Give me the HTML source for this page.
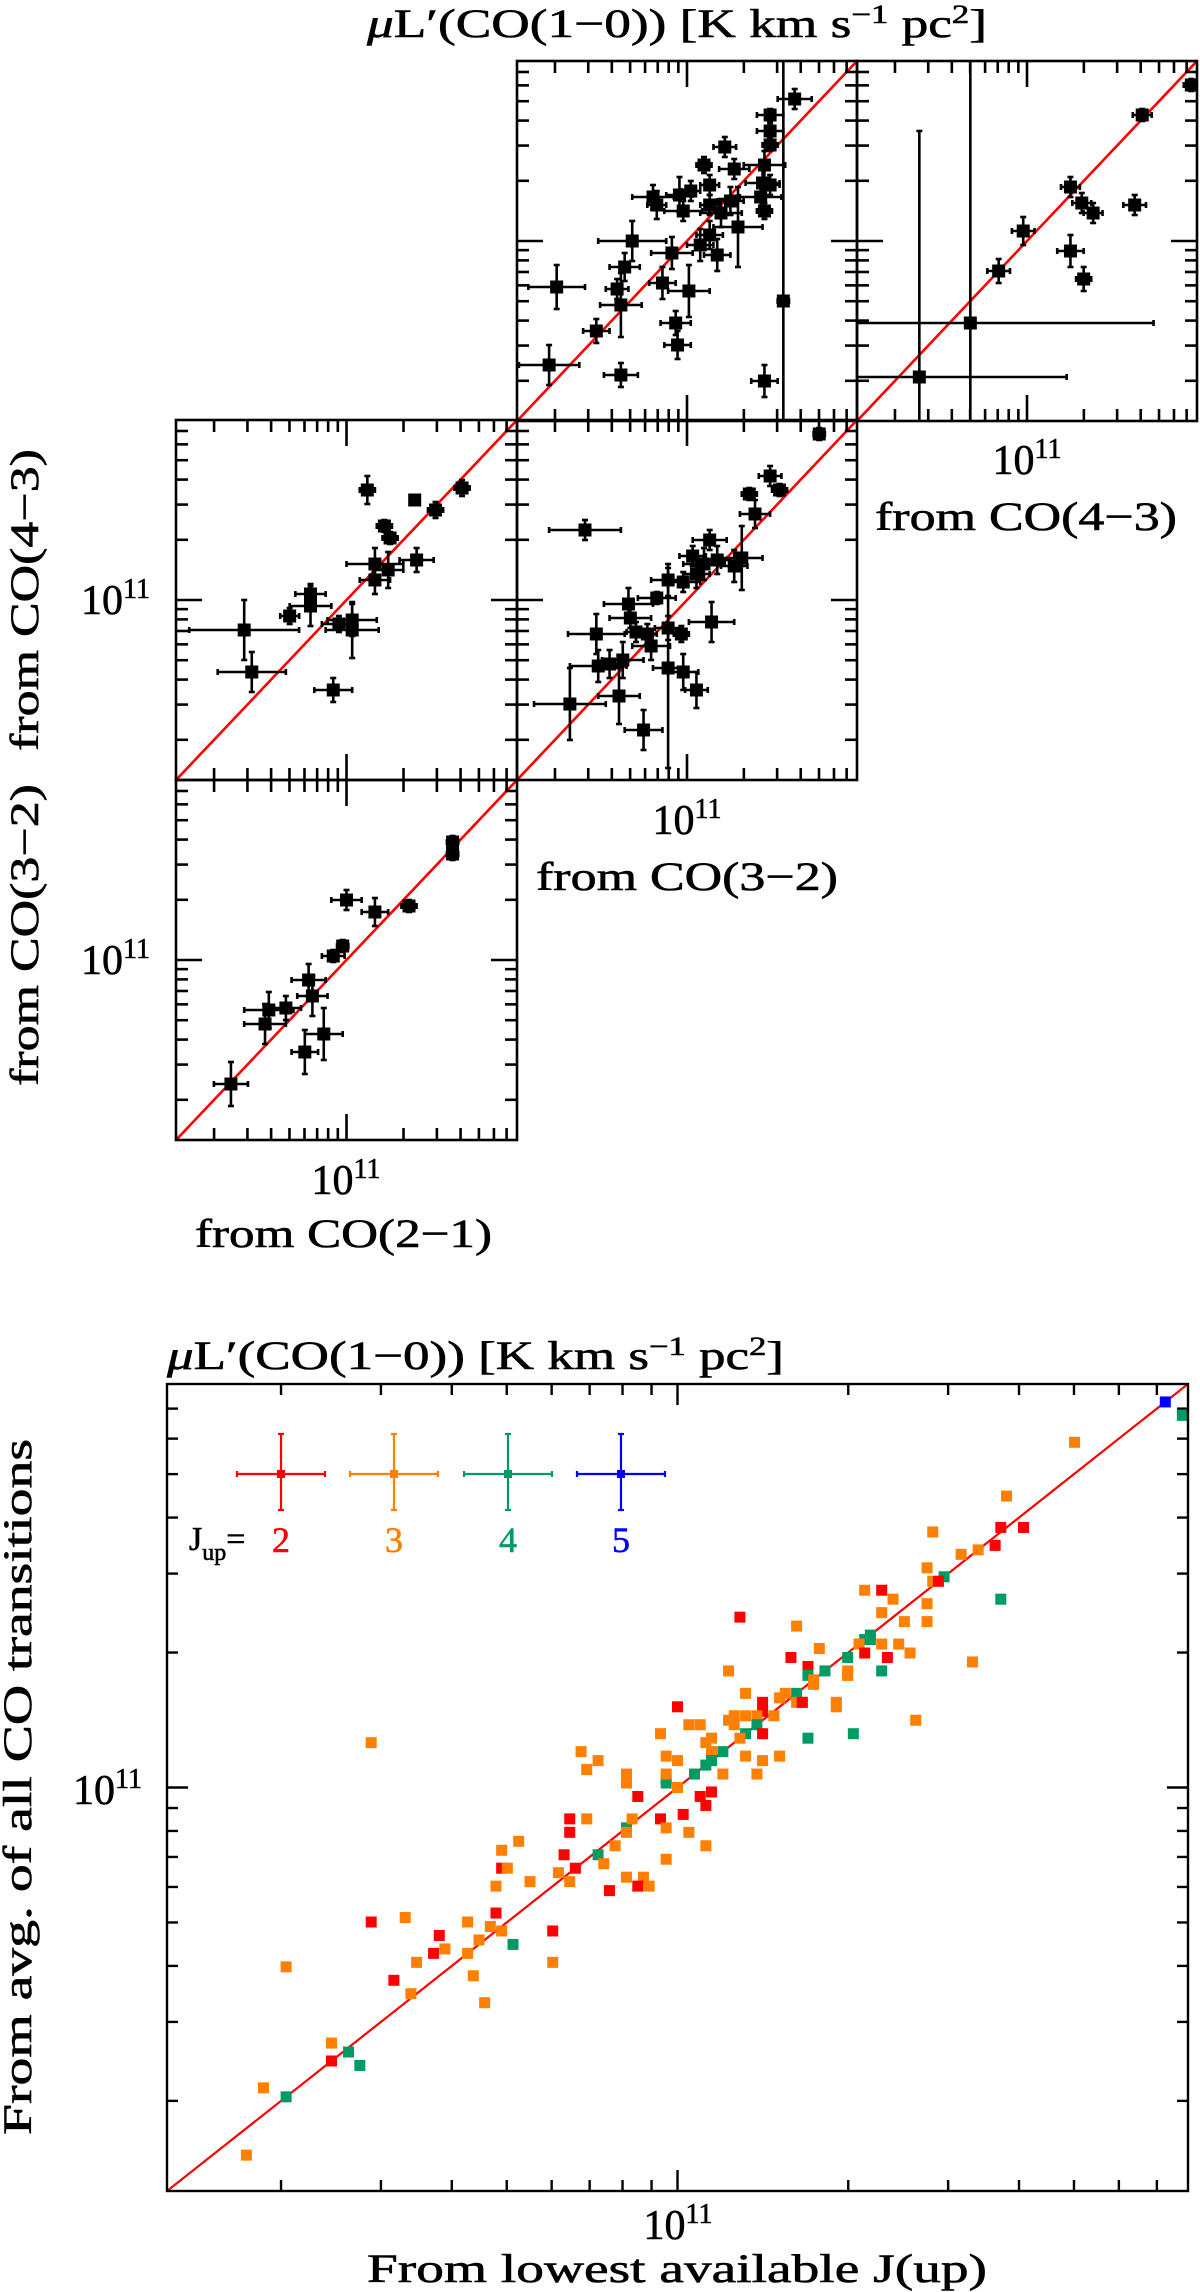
<!DOCTYPE html>
<html><head><meta charset="utf-8"><style>
html,body{margin:0;padding:0;background:#fff;}
svg{display:block;}
text{font-family:"Liberation Serif",serif;fill:#000;stroke:#000;stroke-width:0.6px;}
</style></head><body>
<svg id="fig" width="1200" height="2292" viewBox="0 0 1200 2292" xmlns="http://www.w3.org/2000/svg">
<g id="labels">
<text x="367" y="37" font-size="40" textLength="620" lengthAdjust="spacingAndGlyphs"><tspan font-style="italic">μ</tspan>L′(CO(1−0)) [K km s<tspan dy="-14" font-size="26">−1</tspan><tspan dy="14"> pc</tspan><tspan dy="-14" font-size="26">2</tspan><tspan dy="14">]</tspan></text>
<text x="1027" y="474" font-size="42" text-anchor="middle">10<tspan dy="-16" font-size="28">11</tspan></text>
<text x="875" y="530" font-size="40" textLength="302" lengthAdjust="spacingAndGlyphs">from CO(4−3)</text>
<text x="687" y="834" font-size="42" text-anchor="middle">10<tspan dy="-16" font-size="28">11</tspan></text>
<text x="536" y="890" font-size="40" textLength="302" lengthAdjust="spacingAndGlyphs">from CO(3−2)</text>
<text x="346" y="1194" font-size="42" text-anchor="middle">10<tspan dy="-16" font-size="28">11</tspan></text>
<text x="195" y="1247" font-size="40" textLength="297" lengthAdjust="spacingAndGlyphs">from CO(2−1)</text>
<text x="150" y="614" font-size="42" text-anchor="end">10<tspan dy="-16" font-size="28">11</tspan></text>
<text x="150" y="974" font-size="42" text-anchor="end">10<tspan dy="-16" font-size="28">11</tspan></text>
<text transform="translate(38,600) rotate(-90)" x="-151" y="0" font-size="40" textLength="302" lengthAdjust="spacingAndGlyphs">from CO(4−3)</text>
<text transform="translate(38,935) rotate(-90)" x="-151" y="0" font-size="40" textLength="302" lengthAdjust="spacingAndGlyphs">from CO(3−2)</text>
<text x="167" y="1369" font-size="40" textLength="617" lengthAdjust="spacingAndGlyphs"><tspan font-style="italic">μ</tspan>L′(CO(1−0)) [K km s<tspan dy="-14" font-size="26">−1</tspan><tspan dy="14"> pc</tspan><tspan dy="-14" font-size="26">2</tspan><tspan dy="14">]</tspan></text>
<text transform="translate(31,1787) rotate(-90)" x="-348" y="0" font-size="40" textLength="696" lengthAdjust="spacingAndGlyphs">From avg. of all CO transitions</text>
<text x="142" y="1804" font-size="42" text-anchor="end">10<tspan dy="-16" font-size="28">11</tspan></text>
<text x="678" y="2239" font-size="42" text-anchor="middle">10<tspan dy="-16" font-size="28">11</tspan></text>
<text x="367" y="2282" font-size="40" textLength="620" lengthAdjust="spacingAndGlyphs">From lowest available J(up)</text>
</g>
</svg>
<script>
// ---- data (log10 of L' in K km/s pc^2) ----
const tickVals = [2e10,3e10,4e10,5e10,6e10,7e10,8e10,9e10,1e11,2e11,3e11,4e11,5e11,6e11,7e11];
const majorTicks = [1e11];
const logMin = 10.1, logMax = 11.9;

// Panel: CO(1-0) vs CO(4-3) top-middle
const p1x = [11.57,11.44,11.44,11.44,11.20,11.09,11.25,11.41,11.40,11.44,11.12,10.82,10.84,10.96,11.02,11.12,11.23,11.39,11.41,10.98,11.18,11.27,11.12,11.07,11.16,10.71,10.92,10.67,10.87,11.01,10.63,10.31,10.65,10.94,10.95,10.52,10.27,10.65,11.41,11.51];
const p1y = [11.71,11.63,11.55,11.48,11.47,11.38,11.36,11.38,11.29,11.28,11.28,11.22,11.18,11.23,11.25,11.18,11.20,11.22,11.15,11.15,11.14,11.07,11.03,10.98,10.93,11.00,10.94,10.87,10.79,10.75,10.76,10.77,10.68,10.59,10.48,10.55,10.38,10.33,10.30,10.70];
const p1xe = [0.09,0.07,0.07,0.04,0.06,0.04,0.08,0.11,0.09,0.05,0.05,0.11,0.05,0.07,0.05,0.05,0.07,0.11,0.04,0.10,0.11,0.13,0.07,0.07,0.07,0.18,0.11,0.08,0.07,0.11,0.06,0.15,0.11,0.08,0.07,0.07,0.16,0.09,0.07,0.03];
const p1ye = [0.05,0.03,0.04,0.03,0.05,0.04,0.05,0.07,0.07,0.05,0.05,0.06,0.07,0.09,0.05,0.05,0.07,0.07,0.04,0.05,0.07,0.20,0.07,0.08,0.08,0.10,0.08,0.07,0.08,0.13,0.05,0.11,0.16,0.06,0.07,0.06,0.10,0.06,0.08,1.5];
// Panel: top-right (x from CO(4-3))
const p2x = [11.87,11.61,11.23,11.29,11.35,11.57,10.98,11.23,10.85,11.30,10.70,10.43];
const p2y = [11.78,11.63,11.27,11.19,11.14,11.18,11.05,10.95,10.85,10.81,10.59,10.32];
const p2xe = [0.04,0.05,0.05,0.05,0.05,0.06,0.06,0.07,0.06,0.04,0.97,0.78];
const p2ye = [0.03,0.03,0.05,0.05,0.05,0.05,0.07,0.08,0.06,0.06,1.5,1.23];
// Panel: middle-center (x from CO(3-2))
const p3x = [11.70,11.44,11.49,11.33,11.36,10.46,11.12,11.03,11.09,11.16,11.25,11.29,10.90,10.98,11.05,10.84,10.69,10.70,11.13,10.52,10.73,10.79,10.90,10.97,10.81,10.66,10.53,10.59,10.90,10.98,11.05,10.38,10.64,10.77];
const p3y = [11.83,11.62,11.55,11.53,11.43,11.35,11.30,11.22,11.18,11.20,11.17,11.21,11.10,11.09,11.13,11.01,10.98,10.91,10.89,10.83,10.84,10.83,10.86,10.83,10.77,10.70,10.67,10.68,10.66,10.64,10.55,10.48,10.52,10.35];
const p3xe = [0.03,0.06,0.04,0.04,0.08,0.19,0.09,0.07,0.11,0.07,0.07,0.11,0.09,0.09,0.07,0.10,0.13,0.11,0.12,0.15,0.05,0.05,0.07,0.04,0.10,0.11,0.15,0.06,0.08,0.08,0.06,0.19,0.11,0.10];
const p3ye = [0.03,0.05,0.03,0.03,0.07,0.05,0.05,0.05,0.08,0.07,0.08,0.16,0.08,0.05,0.07,0.03,0.08,0.05,0.10,0.10,0.05,0.05,0.06,0.04,0.07,0.09,0.08,0.07,0.5,0.09,0.09,0.18,0.14,0.10];
// Panel: middle-left (y from CO(4-3))
const p4x = [11.11,11.36,11.61,11.47,11.20,11.23,11.15,11.22,11.37,11.15,10.81,10.81,10.70,10.46,10.96,11.03,11.03,10.50,10.93];
const p4y = [11.55,11.50,11.56,11.45,11.37,11.31,11.18,11.15,11.20,11.10,11.03,10.97,10.92,10.85,10.88,10.90,10.85,10.64,10.55];
const p4xe = [0.04,0,0.04,0.04,0.04,0.04,0.15,0.08,0.09,0.08,0.08,0.11,0.05,0.29,0.09,0.13,0.14,0.18,0.10];
const p4ye = [0.07,0,0.04,0.04,0.03,0.03,0.08,0.09,0.06,0.07,0.05,0.10,0.04,0.15,0.04,0.08,0.14,0.10,0.06];
// Panel: bottom-left (y from CO(3-2), x from CO(2-1))
const p5x = [11.56,11.56,11.00,11.15,11.33,10.98,10.93,10.80,10.82,10.59,10.68,10.57,10.88,10.78,10.39];
const p5y = [11.59,11.53,11.30,11.24,11.27,11.07,11.02,10.90,10.82,10.75,10.76,10.68,10.63,10.54,10.38];
const p5xe = [0.03,0.03,0.08,0.07,0.04,0.03,0.06,0.09,0.08,0.13,0.08,0.11,0.10,0.07,0.09];
const p5ye = [0.03,0.03,0.05,0.07,0.03,0.03,0.03,0.08,0.10,0.09,0.06,0.10,0.13,0.11,0.11];

// Bottom plot: lowest-J estimate vs average of all transitions
const bx = [10.24,10.27,10.31,10.31,10.39,10.42,10.39,10.44,10.46,10.52,10.50,10.54,10.53,10.57,10.59,10.58,10.63,10.63,10.65,10.64,10.66,10.67,10.69,10.68,10.71,10.68,10.69,10.70,10.69,10.72,10.74,10.78,10.78,10.79,10.81,10.82,10.80,10.81,10.81,10.84,10.86,10.87,10.89,10.88,10.91,10.94,10.93,10.95,10.91,10.91,10.92,10.93,10.91,10.97,10.98,10.98,10.98,11.00,
10.46,11.00,10.97,10.83,10.86,10.84,10.98,11.00,10.91,10.98,10.98,
11.86,11.89,11.70,11.58,11.45,11.57,11.61,11.56,11.50,11.53,11.44,11.47,11.45,11.46,11.33,11.36,11.38,11.57,11.44,11.36,11.11,11.40,11.44,11.21,11.34,11.34,11.33,11.32,11.36,11.39,11.41,11.33,11.37,11.30,11.25,11.20,11.52,11.09,11.23,11.30,11.30,11.36,11.26,11.23,11.24,11.24,11.21,11.12,11.18,11.19,11.21,11.22,11.22,11.15,11.15,11.28,11.28,11.10,11.09,11.12,11.14,11.17,11.10,11.02,11.04,11.14,11.42,11.12,11.15,11.06,11.05,11.11,11.06,11.08,11.23,11.31,11.12,11.15,11.18,11.06,11.05,11.03,11.08,11.14,11.06,11.04,11.05,11.01,11.02,11.05];
const by = [10.18,10.33,10.31,10.60,10.43,10.41,10.39,10.38,10.70,10.71,10.57,10.61,10.54,10.63,10.64,10.67,10.70,10.63,10.66,10.58,10.52,10.69,10.68,10.72,10.65,10.78,10.82,10.82,10.86,10.88,10.79,10.61,10.68,10.81,10.79,10.82,10.85,10.90,10.93,10.93,10.85,10.83,10.87,10.77,10.80,10.80,10.78,10.78,10.91,10.90,10.93,10.98,11.01,10.93,10.91,10.84,11.01,11.00,
11.10,11.18,11.12,11.08,11.06,11.04,11.07,11.06,11.03,11.02,11.03,
11.86,11.83,11.77,11.65,11.57,11.58,11.58,11.54,11.52,11.53,11.49,11.47,11.46,11.46,11.44,11.44,11.42,11.42,11.41,11.39,11.38,11.37,11.37,11.36,11.34,11.33,11.33,11.32,11.32,11.32,11.30,11.30,11.29,11.29,11.31,11.29,11.28,11.26,11.27,11.26,11.25,11.26,11.26,11.25,11.24,11.23,11.21,11.21,11.20,11.21,11.19,11.19,11.19,11.19,11.17,11.19,11.18,11.16,11.15,11.16,11.16,11.16,11.14,11.14,11.14,11.14,11.15,11.12,11.12,11.11,11.10,11.11,11.08,11.08,11.11,11.12,11.07,11.06,11.07,11.06,11.05,11.03,11.03,11.03,10.99,10.98,10.96,10.94,10.90,10.87];
const bj = [3,3,4,3,3,4,2,4,2,3,2,3,3,2,3,2,3,3,3,3,3,3,3,2,4,3,2,3,3,3,3,3,2,3,3,2,2,2,2,3,4,3,3,2,3,3,2,3,4,3,3,2,3,2,3,3,4,3,
3,2,3,3,3,3,3,3,3,4,3,
5,4,3,3,3,2,2,2,3,3,3,4,3,2,3,2,3,4,3,3,2,3,3,3,4,4,4,3,3,3,3,2,2,4,3,2,3,3,2,3,3,4,4,4,3,3,4,3,3,3,3,3,2,2,2,3,3,3,3,3,3,3,3,3,3,4,3,4,2,3,3,3,3,4,4,4,3,3,3,4,4,4,3,3,2,2,2,2,3,3];
const legendJ = [2,3,4,5];
const jColors = {2:'#ff0000',3:'#ff7f00',4:'#009b62',5:'#0000ff'};

// ---- drawing ----
const NS = 'http://www.w3.org/2000/svg';
const svg = document.getElementById('fig');
function mk(tag, attrs, parent){
  const e = document.createElementNS(NS, tag);
  for (const k in attrs) e.setAttribute(k, attrs[k]);
  (parent||svg).appendChild(e);
  return e;
}
function makeScale(x0,y0,w,h){
  return {
    sx: v => x0 + (v - logMin)/(logMax - logMin)*w,
    sy: v => y0 + h - (v - logMin)/(logMax - logMin)*h
  };
}
function drawFrame(g, x0,y0,w,h, sc, majLen, minLen, sw){
  const fr = mk('rect',{x:x0,y:y0,width:w,height:h,fill:'none',stroke:'#000','stroke-width':sw},g);
  
  
  tickVals.forEach(t=>{
    const lv = Math.log10(t);
    const L = majorTicks.includes(t) ? majLen : minLen;
    const X = sc.sx(lv), Y = sc.sy(lv);
    [[X,y0+h,X,y0+h-L],[X,y0,X,y0+L],[x0,Y,x0+L,Y],[x0+w,Y,x0+w-L,Y]].forEach(c=>{
      const tk = mk('line',{x1:c[0],y1:c[1],x2:c[2],y2:c[3],stroke:'#000','stroke-width':sw},g);
      
      
    });
  });
}
let clipId = 0;
function drawPanel(name, x0,y0,w,h, xs,ys,xes,yes){
  const g = mk('g',{});
  
  
  const sc = makeScale(x0,y0,w,h);
  const cid = 'clip'+(clipId++);
  const cp = mk('clipPath',{id:cid},g);
  mk('rect',{x:x0,y:y0,width:w,height:h},cp);
  const inner = mk('g',{'clip-path':'url(#'+cid+')'},g);
  const dl = mk('line',{x1:sc.sx(logMin),y1:sc.sy(logMin),x2:sc.sx(logMax),y2:sc.sy(logMax),stroke:'#ff0000','stroke-width':2.6},inner);
  
  
  const n = Math.min(xs.length, ys.length);
  for (let i=0;i<n;i++){
    const cx = sc.sx(xs[i]), cy = sc.sy(ys[i]);
    const xe = xes[i]||0, ye = yes[i]||0;
    const pg = mk('g',{},inner);
    
    
    if (xe>0){
      const a = sc.sx(xs[i]-xe), b = sc.sx(xs[i]+xe);
      mk('line',{x1:a,y1:cy,x2:b,y2:cy,stroke:'#000','stroke-width':2.6},pg);
      mk('line',{x1:a,y1:cy-3,x2:a,y2:cy+3,stroke:'#000','stroke-width':2.6},pg);
      mk('line',{x1:b,y1:cy-3,x2:b,y2:cy+3,stroke:'#000','stroke-width':2.6},pg);
    }
    if (ye>0){
      const a = sc.sy(ys[i]-ye), b = sc.sy(ys[i]+ye);
      mk('line',{x1:cx,y1:a,x2:cx,y2:b,stroke:'#000','stroke-width':2.6},pg);
      mk('line',{x1:cx-3,y1:a,x2:cx+3,y2:a,stroke:'#000','stroke-width':2.6},pg);
      mk('line',{x1:cx-3,y1:b,x2:cx+3,y2:b,stroke:'#000','stroke-width':2.6},pg);
    }
    mk('rect',{x:cx-6.5,y:cy-6.5,width:13,height:13,fill:'#000'},pg);
  }
  drawFrame(g,x0,y0,w,h,sc,26,12,2.6);
}
drawPanel('panel-co43-vs-co10', 517,61,340,360, p1x,p1y,p1xe,p1ye);
drawPanel('panel-co43-x', 857,61,340,360, p2x,p2y,p2xe,p2ye);
drawPanel('panel-co32-vs-co43', 517,420,340,360, p3x,p3y,p3xe,p3ye);
drawPanel('panel-co43-y', 176,420,341,360, p4x,p4y,p4xe,p4ye);
drawPanel('panel-co21-vs-co32', 176,780,341,360, p5x,p5y,p5xe,p5ye);

// bottom plot
(function(){
  const x0=167,y0=1384,w=1021,h=807;
  const g = mk('g',{});
  
  
  const sc = makeScale(x0,y0,w,h);
  const cp = mk('clipPath',{id:'clipB'},g);
  mk('rect',{x:x0,y:y0,width:w,height:h},cp);
  const inner = mk('g',{'clip-path':'url(#clipB)'},g);
  const dl = mk('line',{x1:sc.sx(logMin),y1:sc.sy(logMin),x2:sc.sx(logMax),y2:sc.sy(logMax),stroke:'#ff0000','stroke-width':2.2},inner);
  
  
  const n = Math.min(bx.length, by.length, bj.length);
  for (let i=0;i<n;i++){
    const r = mk('rect',{x:sc.sx(bx[i])-5.5,y:sc.sy(by[i])-5.5,width:11,height:11,fill:jColors[bj[i]]},inner);
    
    
  }
  drawFrame(g,x0,y0,w,h,sc,21,11,2.4);
  // legend
  const lg = mk('g',{});
  
  
  const lcx = [281,394,508,621];
  legendJ.forEach((j,k)=>{
    const c = jColors[j], cx = lcx[k], cy = 1474;
    const e = mk('g',{},lg);
    
    
    mk('line',{x1:cx-44,y1:cy,x2:cx+44,y2:cy,stroke:c,'stroke-width':2.2},e);
    mk('line',{x1:cx,y1:cy-40,x2:cx,y2:cy+36,stroke:c,'stroke-width':2.2},e);
    mk('line',{x1:cx-44,y1:cy-3,x2:cx-44,y2:cy+3,stroke:c,'stroke-width':2.2},e);
    mk('line',{x1:cx+44,y1:cy-3,x2:cx+44,y2:cy+3,stroke:c,'stroke-width':2.2},e);
    mk('line',{x1:cx-3,y1:cy-40,x2:cx+3,y2:cy-40,stroke:c,'stroke-width':2.2},e);
    mk('line',{x1:cx-3,y1:cy+36,x2:cx+3,y2:cy+36,stroke:c,'stroke-width':2.2},e);
    mk('rect',{x:cx-4,y:cy-4,width:8,height:8,fill:c},e);
    const t = mk('text',{x:cx,y:1552,'font-size':36,'text-anchor':'middle',fill:c},e);
    t.setAttribute('style','fill:'+c+';stroke:'+c);
    t.textContent = String(j);
  });
  const jt = mk('text',{x:189,y:1550,'font-size':34},lg);
  
  
  jt.innerHTML = 'J<tspan dy="10" font-size="24">up</tspan><tspan dy="-10">=</tspan>';
})();
</script>
</body></html>
